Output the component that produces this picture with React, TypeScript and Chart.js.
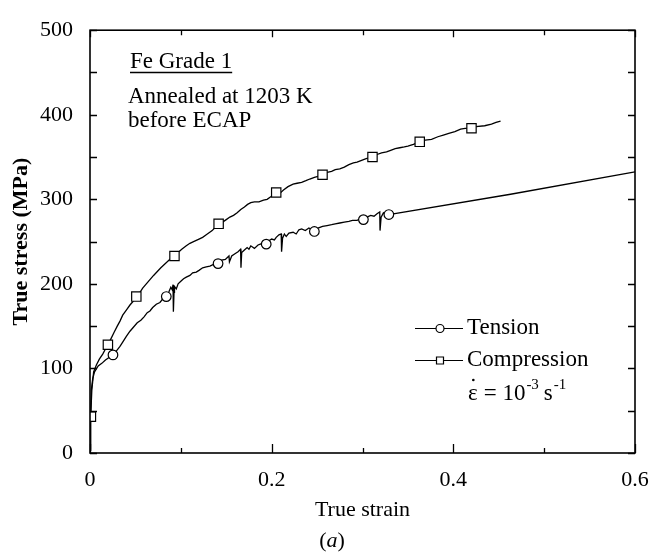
import React, { useEffect, useRef } from "react";
import { Chart, registerables } from "chart.js";

Chart.register(...registerables);

const FONT = "'Liberation Serif', 'Times New Roman', serif";

// ---- data (true strain, true stress MPa) ----
const tensionStrain = [
  0, 0.0005, 0.0014, 0.003, 0.005, 0.009, 0.013, 0.017, 0.021, 0.0253, 0.03, 0.033, 0.036, 0.04, 0.044,
  0.048, 0.052, 0.056, 0.0595, 0.063, 0.066, 0.069, 0.073, 0.077, 0.08, 0.084, 0.087, 0.089, 0.0905,
  0.0914, 0.0918, 0.0925, 0.093, 0.095, 0.097, 0.1, 0.103, 0.106, 0.11, 0.113, 0.117, 0.12, 0.124,
  0.128, 0.132, 0.136, 0.141, 0.145, 0.149, 0.153, 0.1535, 0.156, 0.16, 0.163, 0.1658, 0.1662, 0.167,
  0.17, 0.173, 0.175, 0.177, 0.181, 0.185, 0.19, 0.194, 0.197, 0.2, 0.203, 0.205, 0.208, 0.2105,
  0.2109, 0.212, 0.214, 0.216, 0.219, 0.2236, 0.227, 0.23, 0.233, 0.237, 0.241, 0.247, 0.251, 0.256,
  0.261, 0.266, 0.27, 0.275, 0.28, 0.285, 0.289, 0.294, 0.298, 0.301, 0.305, 0.309, 0.3127, 0.316,
  0.319, 0.3193, 0.3205, 0.323, 0.326, 0.329, 0.463, 0.6,
];
const tensionStress = [
  5, 34, 74, 88, 96, 103, 106, 110, 113, 116, 122, 126, 131, 138, 144,
  149, 154, 157, 161, 166, 168, 172, 176, 178, 182, 185, 191, 196, 193,
  199, 167, 190, 197, 194, 200, 203, 206, 208, 210, 213, 214, 216, 219,
  220, 221, 223, 224, 228, 229, 233, 226, 233, 236, 238, 241, 219, 237,
  240, 243, 241, 245, 242, 246, 248, 247, 251, 253, 252, 255, 258, 259,
  238, 254, 259, 256, 260, 261, 259, 264, 265, 263, 266, 262, 266, 268,
  269, 270, 271, 272, 273, 274, 275, 275, 277, 276, 279, 281, 280, 283,
  285, 263, 279, 284, 281, 282, 306, 332.5,
];

const compressionStrain = [
  0, 0.0005, 0.001, 0.002, 0.004, 0.007, 0.0103, 0.014, 0.017, 0.0197, 0.023, 0.0267, 0.03, 0.033,
  0.036, 0.04, 0.044, 0.048, 0.051, 0.055, 0.058, 0.062, 0.066, 0.07, 0.0736, 0.078, 0.083, 0.088,
  0.093, 0.097, 0.101, 0.106, 0.11, 0.114, 0.12, 0.124, 0.128, 0.1345, 0.138, 0.1416, 0.146, 0.15,
  0.154, 0.158, 0.162, 0.166, 0.17, 0.1735, 0.177, 0.181, 0.186, 0.191, 0.195, 0.199, 0.205, 0.209,
  0.213, 0.218, 0.2236, 0.228, 0.233, 0.2377, 0.242, 0.247, 0.251, 0.256, 0.261, 0.266, 0.27, 0.275,
  0.28, 0.285, 0.29, 0.294, 0.299, 0.304, 0.311, 0.316, 0.321, 0.3265, 0.331, 0.336, 0.341, 0.346,
  0.35, 0.356, 0.363, 0.369, 0.376, 0.383, 0.389, 0.395, 0.4017, 0.408, 0.413, 0.42, 0.425, 0.4345,
  0.442, 0.447, 0.452,
];
const compressionStress = [
  3, 34, 43, 74, 96, 104, 111, 117, 123, 128, 135, 143, 150, 156,
  163, 169, 175, 180, 185, 190, 195, 200, 205, 210, 214, 219, 224, 229,
  233, 237, 241, 245, 248, 250, 253, 255, 258, 263, 267, 271, 273, 276,
  279, 281, 284, 288, 291, 294, 296, 297, 297, 299, 300, 303, 308, 307,
  311, 315, 318, 319, 320, 322, 324, 326, 327, 329, 332, 333, 335, 336,
  338, 341, 343, 344, 346, 348, 350, 353, 355, 356, 358, 360, 361, 362,
  363, 365, 368, 370, 371, 374, 376, 378, 380, 383, 384, 384, 386, 387,
  389, 391, 392.5,
];

const tensionMarkerStrain = [0.0253, 0.084, 0.141, 0.194, 0.247, 0.301, 0.329];
const tensionMarkerStress = [116, 185, 224, 247, 262, 276, 282];
const compressionMarkerStrain = [0.001, 0.0197, 0.051, 0.093, 0.1416, 0.205, 0.256, 0.311, 0.363, 0.42];
const compressionMarkerStress = [43, 128, 185, 233, 271, 308, 329, 350, 368, 384];

const xMajorTicks = [0, 0.2, 0.4, 0.6];
const xMinorTicks = [0.1, 0.3, 0.5];
const yAllTicks = [0, 50, 100, 150, 200, 250, 300, 350, 400, 450, 500];

const seriesNames = ["Tension", "Compression"];
const annotationTitle = "Fe Grade 1";
const annotationLines = ["Annealed at 1203 K", "before ECAP"];
const xTitle = "True strain";
const yTitle = "True stress (MPa)";

const zip = (xs: number[], ys: number[]) => xs.map((v, i) => ({ x: v, y: ys[i] }));

const framePlugin = {
  id: "framePlugin",
  afterDraw(chart: any) {
    const { ctx, chartArea: a, scales } = chart;
    const x = scales.x;
    const y = scales.y;
    ctx.save();
    ctx.strokeStyle = "#000";
    ctx.fillStyle = "#000";
    ctx.lineWidth = 1.6;
    ctx.strokeRect(a.left, a.top, a.right - a.left, a.bottom - a.top);

    ctx.lineWidth = 1.3;
    ctx.beginPath();
    const xt = (v: number, bottomLen: number, topLen: number) => {
      const px = Math.round(x.getPixelForValue(v)) + 0.5;
      ctx.moveTo(px, a.bottom);
      ctx.lineTo(px, a.bottom - bottomLen);
      ctx.moveTo(px, a.top);
      ctx.lineTo(px, a.top + topLen);
    };
    xMajorTicks.forEach((v) => xt(v, 9, 7));
    xMinorTicks.forEach((v) => xt(v, 5, 5));
    yAllTicks.forEach((v) => {
      const py = Math.round(y.getPixelForValue(v)) + 0.5;
      ctx.moveTo(a.left, py);
      ctx.lineTo(a.left + 7, py);
      ctx.moveTo(a.right, py);
      ctx.lineTo(a.right - 7, py);
    });
    ctx.stroke();

    // annotation
    ctx.textBaseline = "middle";
    ctx.textAlign = "left";
    ctx.font = `23px ${FONT}`;
    ctx.fillText(annotationTitle, 130, 62);
    const w = ctx.measureText(annotationTitle).width;
    ctx.lineWidth = 1.3;
    ctx.beginPath();
    ctx.moveTo(130, 72.5);
    ctx.lineTo(130 + w, 72.5);
    ctx.stroke();
    ctx.fillText(annotationLines[0], 128, 97);
    ctx.fillText(annotationLines[1], 128, 121);

    // legend
    const lx0 = 415, lx1 = 463, mx = 440;
    const rows = [328, 360];
    ctx.lineWidth = 1.2;
    rows.forEach((ry, i) => {
      ctx.beginPath();
      ctx.moveTo(lx0, ry + 0.5);
      ctx.lineTo(lx1, ry + 0.5);
      ctx.stroke();
      ctx.fillStyle = "#fff";
      ctx.beginPath();
      if (i === 0) ctx.arc(mx, ry + 0.5, 4, 0, Math.PI * 2);
      else ctx.rect(mx - 3.5, ry - 3, 7, 7);
      ctx.fill();
      ctx.stroke();
      ctx.fillStyle = "#000";
      ctx.fillText(seriesNames[i], 467, ry);
    });

    // strain-rate text: epsilon with a dot above
    const ry = 394;
    ctx.font = `23px ${FONT}`;
    let cx = 468;
    const ew = ctx.measureText("\u03b5").width;
    ctx.fillText("\u03b5", cx, ry);
    ctx.beginPath();
    ctx.arc(cx + ew / 2 + 0.5, ry - 14, 1.3, 0, Math.PI * 2);
    ctx.fill();
    cx += ew + 6;
    ctx.fillText("= 10", cx, ry);
    cx += ctx.measureText("= 10").width + 1;
    ctx.font = `15px ${FONT}`;
    ctx.fillText("-3", cx, ry - 9);
    cx += ctx.measureText("-3").width + 5;
    ctx.font = `23px ${FONT}`;
    ctx.fillText("s", cx, ry);
    cx += ctx.measureText("s").width + 1;
    ctx.font = `15px ${FONT}`;
    ctx.fillText("-1", cx, ry - 9);

    // (a)
    ctx.textAlign = "left";
    ctx.font = `22px ${FONT}`;
    const p1 = ctx.measureText("(").width;
    ctx.font = `italic 22px ${FONT}`;
    const pa = ctx.measureText("a").width;
    ctx.font = `22px ${FONT}`;
    const p2 = ctx.measureText(")").width;
    let ax = 332 - (p1 + pa + p2) / 2;
    ctx.fillText("(", ax, 541);
    ax += p1;
    ctx.font = `italic 22px ${FONT}`;
    ctx.fillText("a", ax, 541);
    ax += pa;
    ctx.font = `22px ${FONT}`;
    ctx.fillText(")", ax, 541);
    ctx.restore();
  },
};

export default function App() {
  const ref = useRef<HTMLCanvasElement | null>(null);
  useEffect(() => {
    if (!ref.current) return;
    const chart = new Chart(ref.current, {
      type: "scatter",
      data: {
        datasets: [
          {
            label: seriesNames[0] + " markers",
            data: zip(tensionMarkerStrain, tensionMarkerStress),
            showLine: false,
            pointStyle: "circle",
            pointRadius: 4.8,
            pointBackgroundColor: "#fff",
            pointBorderColor: "#000",
            pointBorderWidth: 1.2,
            order: 0,
          },
          {
            label: seriesNames[1] + " markers",
            data: zip(compressionMarkerStrain, compressionMarkerStress),
            showLine: false,
            pointStyle: "rect",
            pointRadius: 6.6,
            pointBackgroundColor: "#fff",
            pointBorderColor: "#000",
            pointBorderWidth: 1.2,
            order: 1,
          },
          {
            label: seriesNames[0],
            data: zip(tensionStrain, tensionStress),
            showLine: true,
            pointRadius: 0,
            borderColor: "#000",
            borderWidth: 1.3,
            order: 2,
          },
          {
            label: seriesNames[1],
            data: zip(compressionStrain, compressionStress),
            showLine: true,
            pointRadius: 0,
            borderColor: "#000",
            borderWidth: 1.3,
            order: 3,
          },
        ],
      },
      options: {
        animation: false,
        responsive: true,
        maintainAspectRatio: false,
        layout: { padding: { top: 19, right: 31, left: 0, bottom: 0 } },
        plugins: { legend: { display: false }, tooltip: { enabled: false } },
        scales: {
          x: {
            type: "linear",
            min: 0,
            max: 0.6,
            grid: { display: false, drawTicks: false },
            border: { display: false },
            ticks: {
              stepSize: 0.2,
              padding: 14,
              color: "#000",
              font: { family: FONT, size: 22 },
              maxRotation: 0,
              callback: (v: any) => (v === 0 ? "0" : Number(v).toFixed(1)),
            },
            title: {
              display: true,
              text: xTitle,
              color: "#000",
              font: { family: FONT, size: 22 },
              padding: { top: 0, bottom: 31 },
            },
            afterFit: (s: any) => {
              s.height = 101;
            },
          },
          y: {
            type: "linear",
            min: 0,
            max: 500,
            grid: { display: false, drawTicks: false },
            border: { display: false },
            ticks: {
              stepSize: 100,
              padding: 17,
              color: "#000",
              font: { family: FONT, size: 22 },
            },
            title: {
              display: true,
              text: yTitle,
              color: "#000",
              font: { family: FONT, size: 22, weight: "bold" },
              padding: { top: 8, bottom: 0 },
            },
            afterFit: (s: any) => {
              s.width = 90;
            },
          },
        },
      },
      plugins: [framePlugin],
    } as any);
    return () => chart.destroy();
  }, []);
  return (
    <div style={{ position: "absolute", left: 0, top: 0, width: 666, height: 554, background: "#fff" }}>
      <canvas ref={ref} width={666} height={554} />
    </div>
  );
}
